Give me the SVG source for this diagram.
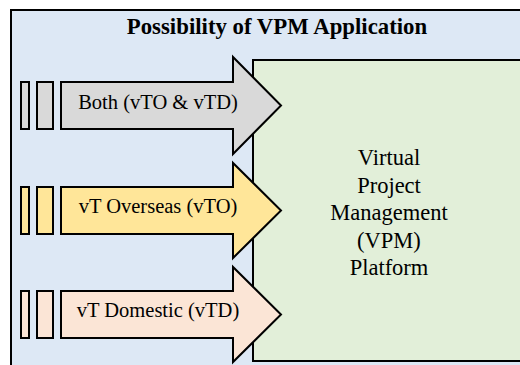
<svg xmlns="http://www.w3.org/2000/svg" width="520" height="365" viewBox="0 0 520 365">
<style>
.ln{stroke:#000;stroke-width:2;stroke-linejoin:miter}
.t{font-family:"Liberation Serif","Times New Roman",serif;fill:#000}
.lab{font-size:20.5px;text-anchor:middle}
.big{font-size:22.5px;text-anchor:middle}
.gray{fill:#d9d9d9}.yel{fill:#ffe699}.pink{fill:#fbe5d6}
</style>
<g id="frame">
<rect class="ln" x="11" y="10" width="530" height="400" fill="#dde8f5"/>
<text class="t" x="277" y="34" font-size="22.8" font-weight="bold" text-anchor="middle">Possibility of VPM Application</text>
</g>
<g id="platform">
<rect class="ln" x="253" y="60" width="300" height="301" fill="#e2efd9"/>
<text class="t big" x="389" y="165">Virtual</text>
<text class="t big" x="389" y="192.5">Project</text>
<text class="t big" x="389" y="220">Management</text>
<text class="t big" x="389" y="247.5">(VPM)</text>
<text class="t big" x="389" y="275">Platform</text>
</g>
<g id="arrow-both">
<rect class="ln gray" x="21" y="82" width="8" height="47"/>
<rect class="ln gray" x="37" y="82" width="16" height="47"/>
<path class="ln gray" d="M61,82 H233 V57 L281,105.5 L233,154 V129 H61 Z"/>
<text class="t lab" x="158" y="109">Both (vTO &amp; vTD)</text>
</g>
<g id="arrow-vto">
<rect class="ln yel" x="21" y="187" width="8" height="47"/>
<rect class="ln yel" x="37" y="187" width="16" height="47"/>
<path class="ln yel" d="M61,187 H233 V163 L281,210.5 L233,258 V234 H61 Z"/>
<text class="t lab" x="158" y="213">vT Overseas (vTO)</text>
</g>
<g id="arrow-vtd">
<rect class="ln pink" x="21" y="291" width="8" height="47"/>
<rect class="ln pink" x="37" y="291" width="16" height="47"/>
<path class="ln pink" d="M61,291 H233 V267 L281,314.5 L233,362 V338 H61 Z"/>
<text class="t lab" x="158" y="317">vT Domestic (vTD)</text>
</g>
<g id="connectors"/>
</svg>
